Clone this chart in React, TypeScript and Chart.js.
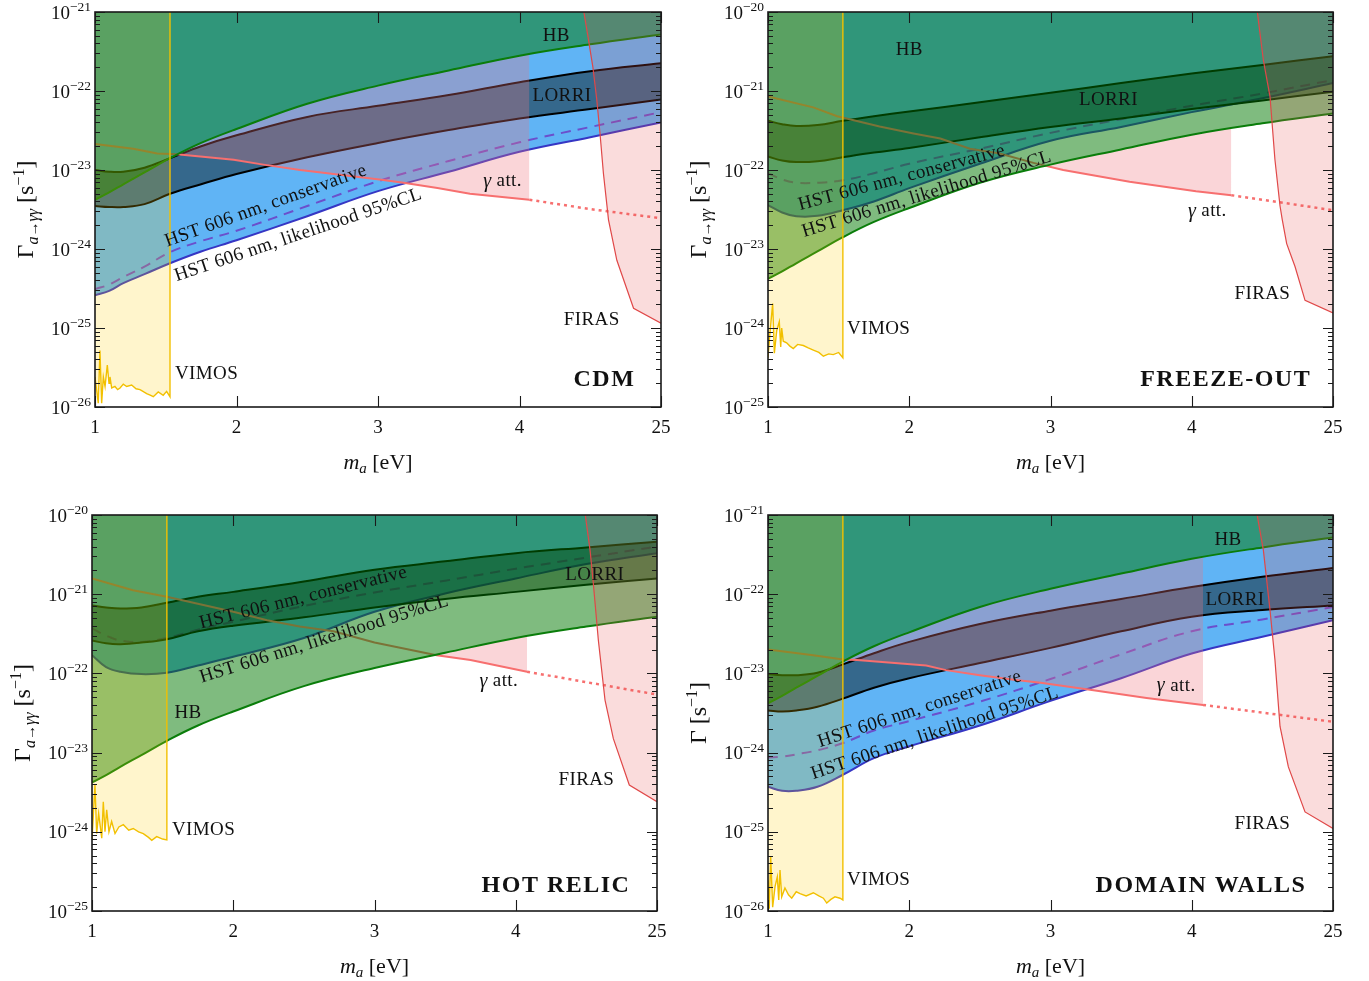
import React, { useEffect, useRef } from 'react';
import { Chart, registerables } from 'chart.js';

Chart.register(...registerables);

// ---------------- shared data ----------------
const massGrid = [1, 1.1, 1.2, 1.35, 1.53, 1.75, 2, 2.5, 3, 3.5, 4, 4.5, 5];
const xTickValues = [1, 2, 3, 4, 5];
const xTickLabels = ['1', '2', '3', '4', '25'];
const hbBound = [4.2e-24, 5.2e-24, 6.6e-24, 9.3e-24, 1.41e-23, 2.2e-23, 3.3e-23, 6.9e-23, 1.17e-22, 1.82e-22, 2.8e-22, 3.9e-22, 5.2e-22];

// ---------------- CDM ----------------
const cdmHstLik = [2.6e-25, 2.95e-25, 3.7e-25, 4.8e-25, 6.6e-25, 9.3e-25, 1.29e-24, 2.6e-24, 5.4e-24, 9.5e-24, 1.7e-23, 2.6e-23, 4.0e-23];
const cdmHstCons = [3.1e-25, 3.55e-25, 4.4e-25, 6.0e-25, 9.1e-25, 1.26e-24, 1.7e-24, 3.5e-24, 7.2e-24, 1.3e-23, 2.24e-23, 3.5e-23, 5.4e-23];
const cdmLorriUp = [1.0e-23, 9.5e-24, 9.5e-24, 1.07e-23, 1.41e-23, 2.0e-23, 2.75e-23, 4.7e-23, 6.5e-23, 8.9e-23, 1.29e-22, 1.78e-22, 2.24e-22];
const cdmLorriLow = [3.5e-24, 3.4e-24, 3.4e-24, 3.7e-24, 5.0e-24, 6.6e-24, 8.9e-24, 1.45e-23, 2.2e-23, 3.2e-23, 4.5e-23, 5.9e-23, 7.8e-23];
const cdmGammaX = [1, 1.27, 1.44, 1.58, 1.98, 2.19, 2.45, 3.01, 3.18, 3.42, 3.65, 4.07];
const cdmGammaY = [2.14e-23, 1.86e-23, 1.62e-23, 1.58e-23, 1.35e-23, 1.17e-23, 1.0e-23, 7.6e-24, 6.9e-24, 5.9e-24, 5.0e-24, 4.2e-24];
const cdmGammaDotX = [4.07, 4.5, 5];
const cdmGammaDotY = [4.2e-24, 3.2e-24, 2.45e-24];
const cdmFirasX = [4.452, 4.487, 4.518, 4.546, 4.569, 4.593, 4.629, 4.688, 4.806, 5.0];
const cdmFirasY = [1.07e-21, 4.5e-22, 2.04e-22, 7.8e-23, 2.9e-23, 9.1e-24, 2.34e-24, 7.2e-25, 1.78e-25, 1.15e-25];
const cdmVimosX = [1.0, 1.023, 1.035, 1.047, 1.059, 1.071, 1.087, 1.099, 1.106, 1.118, 1.141, 1.16, 1.177, 1.2, 1.224, 1.259, 1.29, 1.318, 1.345, 1.365, 1.39, 1.412, 1.447, 1.482, 1.506, 1.53];
const cdmVimosY = [2.4e-26, 1.12e-26, 5.2e-26, 1.12e-26, 2.4e-26, 1.82e-26, 3.4e-26, 2.0e-26, 2.4e-26, 1.74e-26, 1.82e-26, 1.66e-26, 1.74e-26, 1.95e-26, 1.82e-26, 1.9e-26, 1.7e-26, 1.66e-26, 1.55e-26, 1.48e-26, 1.41e-26, 1.35e-26, 1.55e-26, 1.41e-26, 1.58e-26, 1.35e-26];

// ---------------- FREEZE-OUT ----------------
const foHstLik = [3.6e-23, 2.9e-23, 2.6e-23, 2.63e-23, 3.1e-23, 4.0e-23, 5.9e-23, 1.2e-22, 2.34e-22, 3.5e-22, 5.4e-22, 8.1e-22, 1.26e-21];
const foHstCons = [9.1e-23, 7.6e-23, 6.9e-23, 6.9e-23, 7.4e-23, 9.1e-23, 1.2e-22, 1.86e-22, 2.95e-22, 4.4e-22, 6.5e-22, 9.3e-22, 1.38e-21];
const foLorriUp = [4.2e-22, 3.8e-22, 3.6e-22, 3.7e-22, 4.2e-22, 4.8e-22, 5.5e-22, 7.2e-22, 9.5e-22, 1.26e-21, 1.66e-21, 2.14e-21, 2.75e-21];
const foLorriLow = [1.48e-22, 1.32e-22, 1.26e-22, 1.29e-22, 1.45e-22, 1.66e-22, 1.9e-22, 2.6e-22, 3.5e-22, 4.5e-22, 5.9e-22, 7.6e-22, 9.8e-22];
const foGammaX = [1, 1.32, 1.49, 1.79, 2.03, 2.22, 2.43, 2.64, 2.88, 3.09, 3.56, 4.03, 4.28];
const foGammaY = [8.5e-22, 6.2e-22, 4.8e-22, 3.55e-22, 2.9e-22, 2.5e-22, 1.86e-22, 1.62e-22, 1.23e-22, 1.0e-22, 7.1e-23, 5.4e-23, 4.8e-23];
const foGammaDotX = [4.28, 5];
const foGammaDotY = [4.8e-23, 3.1e-23];
const foFirasX = [4.462, 4.507, 4.554, 4.589, 4.625, 4.641, 4.672, 4.731, 4.802, 5.0];
const foFirasY = [1.07e-20, 2.45e-21, 8.5e-22, 1.35e-22, 3.5e-23, 2.34e-23, 1.17e-23, 6.0e-24, 2.24e-24, 1.55e-24];
const foVimosX = [1.0, 1.014, 1.033, 1.045, 1.062, 1.08, 1.09, 1.097, 1.108, 1.132, 1.155, 1.179, 1.21, 1.25, 1.285, 1.321, 1.36, 1.392, 1.43, 1.462, 1.5, 1.53];
const foVimosY = [4.2e-25, 8.7e-25, 2.04e-24, 4.8e-25, 9.3e-25, 1.2e-24, 5.75e-25, 1.0e-24, 6.8e-25, 6.5e-25, 5.9e-25, 5.5e-25, 6.2e-25, 6.0e-25, 5.6e-25, 5.25e-25, 4.9e-25, 4.4e-25, 4.7e-25, 4.6e-25, 4.9e-25, 4.2e-25];

// ---------------- HOT RELIC ----------------
const hrHstLik = [1.7e-22, 1.2e-22, 1.05e-22, 9.8e-23, 1.02e-22, 1.26e-22, 1.62e-22, 2.8e-22, 6.0e-22, 1.02e-21, 1.58e-21, 2.4e-21, 3.3e-21];
const hrHstCons = [3.7e-22, 3.0e-22, 2.6e-22, 2.5e-22, 2.8e-22, 3.55e-22, 4.5e-22, 7.1e-22, 1.05e-21, 1.48e-21, 2.1e-21, 2.9e-21, 4.0e-21];
const hrLorriUp = [7.2e-22, 6.8e-22, 6.6e-22, 6.8e-22, 7.8e-22, 9.3e-22, 1.07e-21, 1.45e-21, 2.04e-21, 2.6e-21, 3.3e-21, 3.9e-21, 4.6e-21];
const hrLorriLow = [2.6e-22, 2.4e-22, 2.34e-22, 2.45e-22, 2.7e-22, 3.4e-22, 4.0e-22, 5.1e-22, 6.8e-22, 8.7e-22, 1.07e-21, 1.32e-21, 1.58e-21];
const hrGammaX = [1, 1.29, 1.53, 2.0, 2.24, 2.47, 2.71, 3.0, 3.44, 3.68, 4.08];
const hrGammaY = [1.58e-21, 1.12e-21, 9.3e-22, 6.0e-22, 4.7e-22, 3.9e-22, 3.4e-22, 2.45e-22, 1.7e-22, 1.48e-22, 1.05e-22];
const hrGammaDotX = [4.08, 5];
const hrGammaDotY = [1.05e-22, 5.4e-23];
const hrFirasX = [4.49, 4.526, 4.549, 4.585, 4.632, 4.691, 4.804, 5.0];
const hrFirasY = [1.07e-20, 3.6e-21, 1.38e-21, 2.6e-22, 4.6e-23, 1.5e-23, 3.9e-24, 2.4e-24];
const hrVimosX = [1.0, 1.021, 1.033, 1.047, 1.069, 1.08, 1.092, 1.104, 1.12, 1.139, 1.163, 1.19, 1.222, 1.26, 1.292, 1.33, 1.363, 1.4, 1.423, 1.458, 1.5, 1.53];
const hrVimosY = [7.9e-25, 3.9e-24, 9.5e-25, 1.7e-24, 8.3e-25, 2.4e-24, 1.0e-24, 1.9e-24, 1.0e-24, 1.35e-24, 9.5e-25, 1.15e-24, 1.23e-24, 1.05e-24, 1.1e-24, 1.0e-24, 9.5e-25, 8.5e-25, 7.8e-25, 8.7e-25, 8.1e-25, 7.9e-25];

// ---------------- DOMAIN WALLS ----------------
const dwHstLik = [3.7e-25, 3.3e-25, 3.3e-25, 3.7e-25, 5.25e-25, 8.5e-25, 1.2e-24, 2.2e-24, 4.5e-24, 8.7e-24, 1.78e-23, 2.9e-23, 4.7e-23];
const dwHstCons = [8.7e-25, 8.9e-25, 9.5e-25, 1.07e-24, 1.32e-24, 1.9e-24, 2.5e-24, 4.4e-24, 8.5e-24, 1.74e-23, 3.4e-23, 4.8e-23, 6.9e-23];
const dwLorriUp = [9.8e-24, 9.5e-24, 9.5e-24, 1.02e-23, 1.3e-23, 1.8e-23, 2.5e-23, 4.2e-23, 6.2e-23, 8.7e-23, 1.23e-22, 1.66e-22, 2.14e-22];
const dwLorriLow = [3.4e-24, 3.3e-24, 3.4e-24, 3.8e-24, 4.8e-24, 6.6e-24, 8.7e-24, 1.35e-23, 2.1e-23, 3.4e-23, 5.2e-23, 6.3e-23, 7.2e-23];
const dwGammaX = [1, 1.32, 1.53, 1.63, 2.12, 2.26, 2.5, 2.74, 2.93, 3.28, 3.68, 4.08];
const dwGammaY = [2.0e-23, 1.7e-23, 1.5e-23, 1.48e-23, 1.26e-23, 1.1e-23, 9.5e-24, 8.3e-24, 7.6e-24, 6.2e-24, 4.9e-24, 4.0e-24];
const dwGammaDotX = [4.08, 5];
const dwGammaDotY = [4.0e-24, 2.45e-24];
const dwFirasX = [4.46, 4.507, 4.554, 4.589, 4.625, 4.684, 4.802, 5.0];
const dwFirasY = [1.07e-21, 3.6e-22, 6.3e-23, 1.48e-23, 2.14e-24, 6.6e-25, 1.78e-25, 1.1e-25];
const dwVimosX = [1.0, 1.009, 1.019, 1.033, 1.05, 1.066, 1.076, 1.085, 1.097, 1.12, 1.145, 1.168, 1.2, 1.227, 1.27, 1.321, 1.36, 1.392, 1.416, 1.445, 1.474, 1.51, 1.53];
const dwVimosY = [2.45e-26, 1.07e-26, 4.9e-26, 1.12e-26, 2.04e-26, 2.7e-26, 1.38e-26, 3.3e-26, 1.51e-26, 1.95e-26, 1.6e-26, 1.45e-26, 1.75e-26, 1.66e-26, 1.55e-26, 1.7e-26, 1.55e-26, 1.45e-26, 1.26e-26, 1.4e-26, 1.51e-26, 1.45e-26, 1.38e-26];

// ---------------- styles ----------------
const COL = {
  hstFill: 'rgba(28,148,241,0.7)',
  hstLine: '#3636c4',
  hstDash: '#6b4fcc',
  lorriFill: 'rgba(0,10,10,0.45)',
  lorriLine: '#000000',
  gammaLine: '#f76f6f',
  gammaFill: 'rgba(240,115,125,0.3)',
  hbFill: 'rgba(0,120,0,0.5)',
  hbLine: '#0a7d0a',
  vimosFill: 'rgba(255,204,0,0.2)',
  vimosLine: '#f2c000',
  firasFill: 'rgba(230,80,80,0.2)',
  firasLine: '#e04848',
  text: '#111111',
  axis: '#1a1a1a',
};
const FONT = '"Liberation Serif", "DejaVu Serif", serif';

interface Label { t: string; x: number; y: number; align?: 'left' | 'center'; rot?: number; bold?: boolean; }
interface PanelDef {
  key: string;
  yMin: number; yMax: number;
  box: { left: number; top: number; width: number; height: number };
  pad: { left: number; top: number; right: number; bottom: number };
  shortYTitle: boolean;
  hstLik: number[]; hstCons: number[]; lorriUp: number[]; lorriLow: number[];
  gammaX: number[]; gammaY: number[]; gammaDotX: number[]; gammaDotY: number[];
  firasX: number[]; firasY: number[]; vimosX: number[]; vimosY: number[];
  labels: Label[];
}

const cdmLabels: Label[] = [
  { t: 'HB', x: 4.26, y: 5.0e-22 },
  { t: 'LORRI', x: 4.30, y: 8.7e-23 },
  { t: 'γ att.', x: 3.88, y: 7.2e-24 },
  { t: 'FIRAS', x: 4.51, y: 1.26e-25 },
  { t: 'VIMOS', x: 1.565, y: 2.6e-26, align: 'left' },
  { t: 'CDM', x: 4.60, y: 2.2e-26, bold: true },
  { t: 'HST 606 nm, conservative', x: 1.51, y: 1.07e-24, rot: -19.8 },
  { t: 'HST 606 nm, likelihood 95%CL', x: 1.577, y: 3.9e-25, rot: -18.6 },
];
const foLabels: Label[] = [
  { t: 'HB', x: 2.0, y: 3.3e-21 },
  { t: 'LORRI', x: 3.41, y: 7.7e-22 },
  { t: 'γ att.', x: 4.11, y: 3.0e-23 },
  { t: 'FIRAS', x: 4.50, y: 2.7e-24 },
  { t: 'VIMOS', x: 1.56, y: 9.8e-25, align: 'left' },
  { t: 'FREEZE-OUT', x: 4.24, y: 2.2e-25, bold: true },
  { t: 'HST 606 nm, conservative', x: 1.227, y: 3.1e-23, rot: -15 },
  { t: 'HST 606 nm, likelihood 95%CL', x: 1.255, y: 1.42e-23, rot: -17 },
];
const hrLabels: Label[] = [
  { t: 'HB', x: 1.68, y: 3.16e-23 },
  { t: 'LORRI', x: 4.56, y: 1.74e-21 },
  { t: 'γ att.', x: 3.88, y: 7.9e-23 },
  { t: 'FIRAS', x: 4.50, y: 4.5e-24 },
  { t: 'VIMOS', x: 1.566, y: 1.05e-24, align: 'left' },
  { t: 'HOT RELIC', x: 4.285, y: 2.1e-25, bold: true },
  { t: 'HST 606 nm, conservative', x: 1.772, y: 3.7e-22, rot: -14 },
  { t: 'HST 606 nm, likelihood 95%CL', x: 1.777, y: 7.6e-23, rot: -17.4 },
];
const dwLabels: Label[] = [
  { t: 'HB', x: 4.257, y: 4.8e-22 },
  { t: 'LORRI', x: 4.306, y: 8.5e-23 },
  { t: 'γ att.', x: 3.89, y: 6.9e-24 },
  { t: 'FIRAS', x: 4.50, y: 1.26e-25 },
  { t: 'VIMOS', x: 1.56, y: 2.45e-26, align: 'left' },
  { t: 'DOMAIN WALLS', x: 4.065, y: 2.1e-26, bold: true },
  { t: 'HST 606 nm, conservative', x: 1.368, y: 1.17e-24, rot: -18.2 },
  { t: 'HST 606 nm, likelihood 95%CL', x: 1.32, y: 4.6e-25, rot: -18.5 },
];

const panels: PanelDef[] = [
  {
    key: 'cdm', yMin: 1e-26, yMax: 1e-21,
    box: { left: 0, top: 0, width: 684, height: 490 },
    pad: { left: 95, top: 12, right: 23, bottom: 83 },
    shortYTitle: false,
    hstLik: cdmHstLik, hstCons: cdmHstCons, lorriUp: cdmLorriUp, lorriLow: cdmLorriLow,
    gammaX: cdmGammaX, gammaY: cdmGammaY, gammaDotX: cdmGammaDotX, gammaDotY: cdmGammaDotY,
    firasX: cdmFirasX, firasY: cdmFirasY, vimosX: cdmVimosX, vimosY: cdmVimosY,
    labels: cdmLabels,
  },
  {
    key: 'fo', yMin: 1e-25, yMax: 1e-20,
    box: { left: 684, top: 0, width: 685, height: 490 },
    pad: { left: 84, top: 12, right: 36, bottom: 83 },
    shortYTitle: false,
    hstLik: foHstLik, hstCons: foHstCons, lorriUp: foLorriUp, lorriLow: foLorriLow,
    gammaX: foGammaX, gammaY: foGammaY, gammaDotX: foGammaDotX, gammaDotY: foGammaDotY,
    firasX: foFirasX, firasY: foFirasY, vimosX: foVimosX, vimosY: foVimosY,
    labels: foLabels,
  },
  {
    key: 'hr', yMin: 1e-25, yMax: 1e-20,
    box: { left: 0, top: 490, width: 684, height: 491 },
    pad: { left: 92, top: 25, right: 27, bottom: 70 },
    shortYTitle: false,
    hstLik: hrHstLik, hstCons: hrHstCons, lorriUp: hrLorriUp, lorriLow: hrLorriLow,
    gammaX: hrGammaX, gammaY: hrGammaY, gammaDotX: hrGammaDotX, gammaDotY: hrGammaDotY,
    firasX: hrFirasX, firasY: hrFirasY, vimosX: hrVimosX, vimosY: hrVimosY,
    labels: hrLabels,
  },
  {
    key: 'dw', yMin: 1e-26, yMax: 1e-21,
    box: { left: 684, top: 490, width: 685, height: 491 },
    pad: { left: 84, top: 25, right: 36, bottom: 70 },
    shortYTitle: true,
    hstLik: dwHstLik, hstCons: dwHstCons, lorriUp: dwLorriUp, lorriLow: dwLorriLow,
    gammaX: dwGammaX, gammaY: dwGammaY, gammaDotX: dwGammaDotX, gammaDotY: dwGammaDotY,
    firasX: dwFirasX, firasY: dwFirasY, vimosX: dwVimosX, vimosY: dwVimosY,
    labels: dwLabels,
  },
];

// ---------------- text helpers ----------------
type Part = { t: string; size: number; italic?: boolean; bold?: boolean; dy?: number };
const fontOf = (p: Part) => `${p.italic ? 'italic ' : ''}${p.bold ? 'bold ' : ''}${p.size}px ${FONT}`;

function drawParts(ctx: CanvasRenderingContext2D, parts: Part[], x: number, y: number, align: 'left' | 'center' | 'right', spacing = 0) {
  const c = ctx as any;
  const hasLS = 'letterSpacing' in c;
  if (hasLS) c.letterSpacing = spacing + 'px';
  ctx.textAlign = 'left';
  const widths = parts.map((p) => { ctx.font = fontOf(p); return ctx.measureText(p.t).width; });
  const total = widths.reduce((a, b) => a + b, 0);
  let cx = align === 'center' ? x - total / 2 : align === 'right' ? x - total : x;
  parts.forEach((p, i) => {
    ctx.font = fontOf(p);
    ctx.fillText(p.t, cx, y + (p.dy || 0));
    cx += widths[i];
  });
  if (hasLS) c.letterSpacing = '0px';
}

function labelParts(l: Label): Part[] {
  if (l.bold) return [{ t: l.t, size: 24, bold: true }];
  if (l.t.startsWith('γ')) return [{ t: 'γ', size: 20, italic: true }, { t: l.t.slice(1), size: 19 }];
  return [{ t: l.t, size: 19 }];
}

function decorPlugin(p: PanelDef) {
  return {
    id: 'decor' + p.key,
    afterDraw(chart: any) {
      const { ctx, chartArea: a, scales } = chart;
      const xs = scales.x;
      const ys = scales.y;
      const eMin = Math.round(Math.log10(p.yMin));
      const eMax = Math.round(Math.log10(p.yMax));
      ctx.save();
      // ticks
      ctx.strokeStyle = COL.axis;
      ctx.lineWidth = 1.1;
      ctx.beginPath();
      for (let e = eMin; e <= eMax; e++) {
        for (let m = 1; m <= 9; m++) {
          const v = m * Math.pow(10, e);
          if (v > p.yMax * 1.0001) break;
          const py = Math.round(ys.getPixelForValue(v)) + 0.5;
          const len = m === 1 ? 10 : 5;
          ctx.moveTo(a.left, py); ctx.lineTo(a.left + len, py);
          ctx.moveTo(a.right, py); ctx.lineTo(a.right - len, py);
        }
      }
      xTickValues.forEach((v) => {
        const px = Math.round(xs.getPixelForValue(v)) + 0.5;
        ctx.moveTo(px, a.bottom); ctx.lineTo(px, a.bottom - 11);
        ctx.moveTo(px, a.top); ctx.lineTo(px, a.top + 11);
      });
      ctx.stroke();
      // frame
      ctx.lineWidth = 1.6;
      ctx.strokeRect(a.left, a.top, a.right - a.left, a.bottom - a.top);

      ctx.fillStyle = COL.text;
      // x tick labels
      ctx.textBaseline = 'middle';
      xTickValues.forEach((v, i) => {
        drawParts(ctx, [{ t: xTickLabels[i], size: 19 }], xs.getPixelForValue(v), a.bottom + 21, 'center');
      });
      // y tick labels
      ctx.textBaseline = 'alphabetic';
      for (let e = eMin; e <= eMax; e++) {
        const py = ys.getPixelForValue(Math.pow(10, e));
        drawParts(ctx, [{ t: '10', size: 19 }, { t: '−' + Math.abs(e), size: 13.5, dy: -7.5 }], a.left - 4, py + 6.5, 'right');
      }
      // x title
      drawParts(ctx, [{ t: 'm', size: 22, italic: true }, { t: 'a', size: 15, italic: true, dy: 4 }, { t: ' [eV]', size: 22 }], (a.left + a.right) / 2, a.bottom + 62, 'center');
      // y title
      ctx.save();
      ctx.translate(a.left - 62, (a.top + a.bottom) / 2);
      ctx.rotate(-Math.PI / 2);
      const yParts: Part[] = p.shortYTitle
        ? [{ t: 'Γ [s', size: 24 }, { t: '−1', size: 16, dy: -9 }, { t: ']', size: 24 }]
        : [
            { t: 'Γ', size: 24 },
            { t: 'a', size: 16, italic: true, dy: 5 },
            { t: '→', size: 15, dy: 5 },
            { t: 'γγ', size: 16, italic: true, dy: 5 },
            { t: ' [s', size: 24 },
            { t: '−1', size: 16, dy: -9 },
            { t: ']', size: 24 },
          ];
      drawParts(ctx, yParts, 0, 0, 'center');
      ctx.restore();
      // annotations
      p.labels.forEach((l) => {
        const px = xs.getPixelForValue(l.x);
        const py = ys.getPixelForValue(l.y);
        const parts = labelParts(l);
        ctx.save();
        if (l.rot) {
          ctx.translate(px, py);
          ctx.rotate((l.rot * Math.PI) / 180);
          ctx.textBaseline = 'alphabetic';
          drawParts(ctx, parts, 0, 0, 'left', 0.4);
        } else {
          ctx.textBaseline = 'middle';
          drawParts(ctx, parts, px, py, l.align || 'center', l.bold ? 1.5 : 0.4);
        }
        ctx.restore();
      });
      ctx.restore();
    },
  };
}

const pts = (xs: number[], ys: number[]) => xs.map((x, i) => ({ x, y: ys[i] }));

function buildDatasets(p: PanelDef): any[] {
  const smooth = { tension: 0.4, cubicInterpolationMode: 'default', pointRadius: 0 };
  const vimosEdge = p.vimosX[p.vimosX.length - 1];
  return [
    { label: 'HST likelihood 95%CL', data: pts(massGrid, p.hstLik), borderColor: COL.hstLine, borderWidth: 2, backgroundColor: COL.hstFill, fill: 'end', order: 9, ...smooth },
    { label: 'HST conservative', data: pts(massGrid, p.hstCons), borderColor: COL.hstDash, borderWidth: 2, borderDash: [10, 7], fill: false, order: 8, ...smooth },
    { label: 'LORRI lower', data: pts(massGrid, p.lorriLow), borderColor: COL.lorriLine, borderWidth: 2, fill: false, order: 7, ...smooth },
    { label: 'LORRI', data: pts(massGrid, p.lorriUp), borderColor: COL.lorriLine, borderWidth: 2, backgroundColor: COL.lorriFill, fill: 2, order: 6, ...smooth },
    { label: 'gamma att.', data: pts(p.gammaX, p.gammaY), borderColor: COL.gammaLine, borderWidth: 2, fill: { target: 6, above: 'rgba(0,0,0,0)', below: COL.gammaFill }, order: 5, tension: 0, pointRadius: 0 },
    { label: 'gamma att. extrapolated', data: pts(p.gammaDotX, p.gammaDotY), borderColor: COL.gammaLine, borderWidth: 2.5, borderDash: [3, 4], fill: false, order: 4, tension: 0, pointRadius: 0 },
    { label: 'HB', data: pts(massGrid, hbBound), borderColor: COL.hbLine, borderWidth: 2, backgroundColor: COL.hbFill, fill: 'end', order: 3, ...smooth },
    { label: 'VIMOS', data: [...pts(p.vimosX, p.vimosY), { x: vimosEdge, y: p.yMax * 10 }], borderColor: COL.vimosLine, borderWidth: 1.4, backgroundColor: COL.vimosFill, fill: 'end', order: 2, tension: 0, pointRadius: 0 },
    { label: 'FIRAS', data: pts(p.firasX, p.firasY), borderColor: COL.firasLine, borderWidth: 1.2, backgroundColor: COL.firasFill, fill: 'end', order: 1, tension: 0, pointRadius: 0 },
  ];
}

function PanelChart({ p }: { p: PanelDef }) {
  const ref = useRef<HTMLCanvasElement>(null);
  useEffect(() => {
    if (!ref.current) return;
    const chart = new Chart(ref.current, {
      type: 'line',
      data: { datasets: buildDatasets(p) },
      options: {
        animation: false,
        responsive: false,
        devicePixelRatio: 1,
        events: [],
        layout: { padding: p.pad },
        plugins: { legend: { display: false }, tooltip: { enabled: false } },
        scales: {
          x: { type: 'linear', min: 1, max: 5, display: false },
          y: { type: 'logarithmic', min: p.yMin, max: p.yMax, display: false },
        },
      },
      plugins: [decorPlugin(p)],
    } as any);
    return () => chart.destroy();
  }, [p]);
  return (
    <canvas
      ref={ref}
      width={p.box.width}
      height={p.box.height}
      style={{ position: 'absolute', left: p.box.left, top: p.box.top, width: p.box.width, height: p.box.height }}
    />
  );
}

export default function App() {
  return (
    <div style={{ position: 'absolute', left: 0, top: 0, width: 1369, height: 981, background: '#ffffff', overflow: 'hidden' }}>
      {panels.map((p) => (
        <PanelChart key={p.key} p={p} />
      ))}
    </div>
  );
}
